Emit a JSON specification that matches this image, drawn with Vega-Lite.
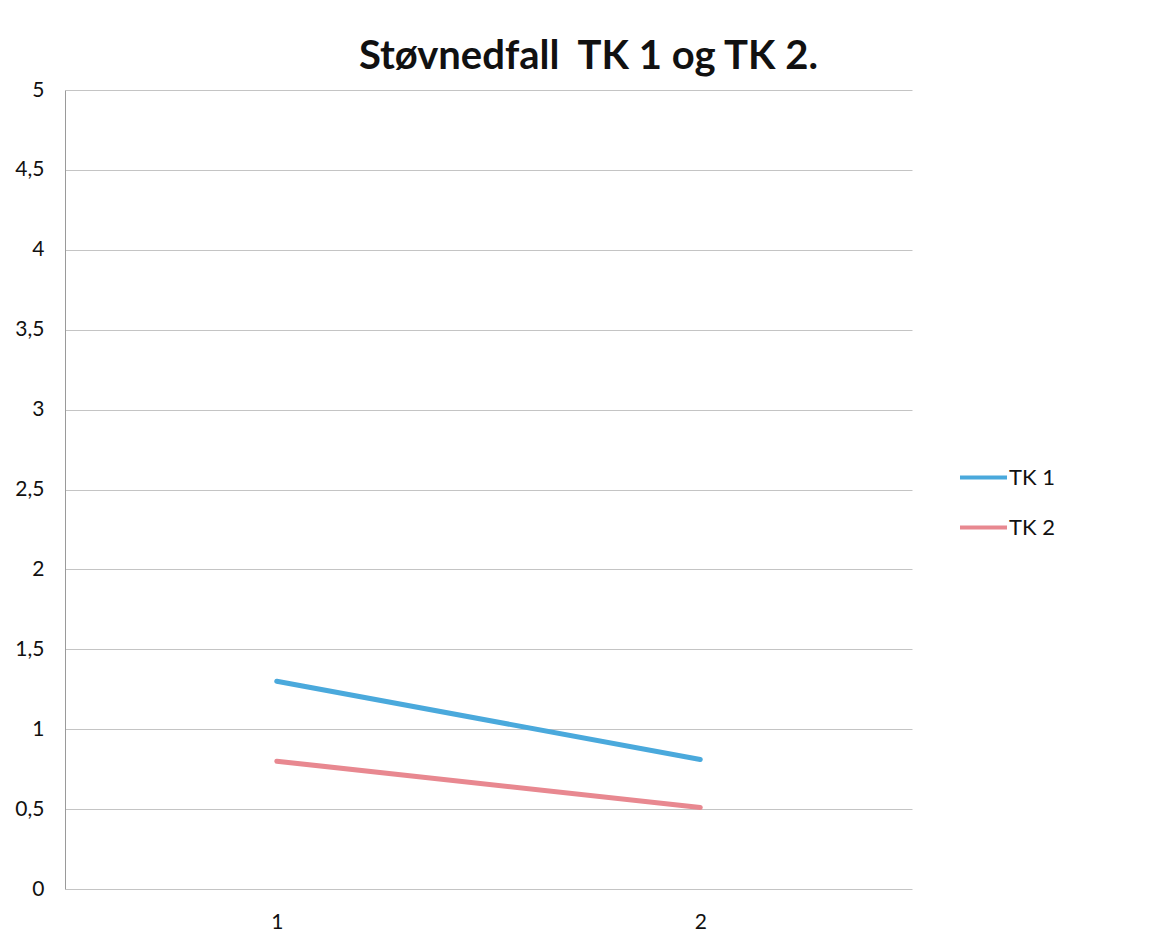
{
  "$schema": "https://vega.github.io/schema/vega-lite/v6.json",
  "autosize": "none",
  "width": 847,
  "height": 799,
  "padding": {"left": 65, "top": 90, "right": 239, "bottom": 43},
  "background": "white",
  "title": {
    "text": "Støvnedfall\u00a0 TK 1 og TK 2.",
    "font": "Lato",
    "fontSize": 40,
    "fontWeight": "bold",
    "color": "#111111",
    "anchor": "middle",
    "frame": "group",
    "dx": 100,
    "offset": 2
  },
  "data": {
    "values": [
      {"Punkt": "1", "Serie": "TK 1", "Verdi": 1.3},
      {"Punkt": "2", "Serie": "TK 1", "Verdi": 0.81},
      {"Punkt": "1", "Serie": "TK 2", "Verdi": 0.8},
      {"Punkt": "2", "Serie": "TK 2", "Verdi": 0.51}
    ]
  },
  "mark": {"type": "line", "strokeWidth": 5, "strokeCap": "round"},
  "encoding": {
    "x": {
      "field": "Punkt",
      "type": "ordinal",
      "scale": {"type": "point", "padding": 0.5},
      "axis": {
        "title": null,
        "labelAngle": 0,
        "labelFont": "Lato",
        "labelFontSize": 21,
        "labelColor": "#111111",
        "labelPadding": 22,
        "ticks": false,
        "domain": false,
        "grid": false
      }
    },
    "y": {
      "field": "Verdi",
      "type": "quantitative",
      "scale": {"domain": [0, 5], "nice": false, "zero": true},
      "axis": {
        "title": null,
        "values": [0, 0.5, 1, 1.5, 2, 2.5, 3, 3.5, 4, 4.5, 5],
        "format": ".1~f",
        "labelExpr": "replace(datum.label, '.', ',')",
        "labelFont": "Lato",
        "labelFontSize": 21,
        "labelColor": "#111111",
        "labelPadding": 21,
        "ticks": false,
        "domain": true,
        "domainColor": "#9a9a9a",
        "domainWidth": 1,
        "grid": true,
        "gridColor": "#c4c4c4",
        "gridWidth": 1
      }
    },
    "color": {
      "field": "Serie",
      "type": "nominal",
      "scale": {"domain": ["TK 1", "TK 2"], "range": ["#4aa9dc", "#e88890"]},
      "legend": {
        "title": null,
        "orient": "none",
        "legendX": 893,
        "legendY": 362,
        "symbolType": "stroke",
        "symbolSize": 2209,
        "symbolStrokeWidth": 4,
        "labelFont": "Lato",
        "labelFontSize": 22,
        "labelColor": "#111111",
        "labelOffset": 0,
        "rowPadding": 13
      }
    }
  },
  "config": {"view": {"stroke": null}}
}
